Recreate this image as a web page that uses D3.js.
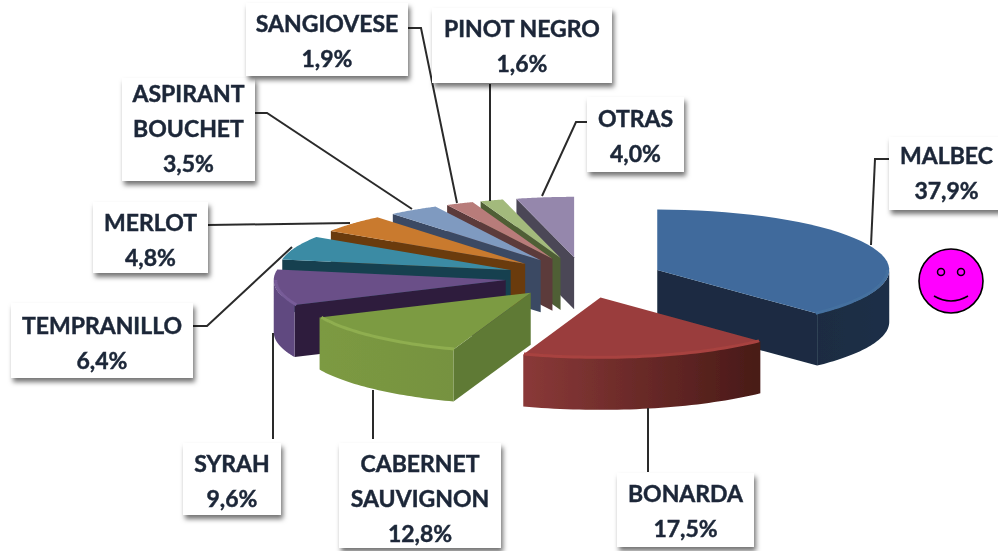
<!DOCTYPE html>
<html>
<head>
<meta charset="utf-8">
<style>
html,body{margin:0;padding:0;background:#fff;overflow:hidden}
svg{display:block}
text{font-family:Lato,"Open Sans",sans-serif;font-weight:700;font-size:23px;fill:#1c2738;stroke:#1c2738;stroke-width:0.45;text-anchor:middle;dominant-baseline:central}
</style>
<script src="https://cdnjs.cloudflare.com/ajax/libs/d3/7.8.5/d3.min.js"></script>
</head>
<body>
<svg id="chart" width="998" height="551"></svg>
<script>
// --- data ---
const categories = ["MALBEC","BONARDA","CABERNET SAUVIGNON","SYRAH","TEMPRANILLO","MERLOT","ASPIRANT BOUCHET","SANGIOVESE","PINOT NEGRO","OTRAS"];
const values = [37.9,17.5,12.8,9.6,6.4,4.8,3.5,1.9,1.6,4.0];
const labelLines = [["MALBEC"],["BONARDA"],["CABERNET","SAUVIGNON"],["SYRAH"],["TEMPRANILLO"],["MERLOT"],["ASPIRANT","BOUCHET"],["SANGIOVESE"],["PINOT NEGRO"],["OTRAS"]];

// --- styles ---
const topColors  = ["#3f6a9c","#9a3e3c","#7c9b43","#6a5088","#3a8ba4","#c97a2e","#7f9ac0","#b87c7a","#a3ba7c","#9587ac"];
const rimColors  = ["#44709f","#a8423f","#8fae50","#775b98","#3a8ba4","#c97a2e","#7f9ac0","#b87c7a","#a3ba7c","#9587ac"];
const cutColors  = ["#1a2c42","#481a17","#5f7a36","#2f1f3e","#17404f","#6a3a0c","#3b4a63","#5c3a3b","#4f5f36","#4b4657"];
const wallLeft   = ["#1a2c42","#8a3938","#7c9a42","#614980","#17404f","#6a3a0c","#3b4a63","#5c3a3b","#4f5f36","#4b4657"];
const wallRight  = ["#1b2f47","#481a17","#769240","#614980","#17404f","#6a3a0c","#3b4a63","#5c3a3b","#4f5f36","#4b4657"];

// --- layout of the pie and of the callouts ---
const cx = 584, cy = 277.5, R = 232, tilt = 0.26, explode = 0.34, depth = 52;
const callouts = [
  {box:[889,137,115,73],  y0:155, leader:[[889,159],[875,159],[871,245]]},
  {box:[617,473,137,74],  y0:493, leader:[[648,472],[648,408]]},
  {box:[339,443,162,105], y0:463, leader:[[373,439],[373,390]]},
  {box:[183,443,98,72],   y0:463, leader:[[273,439],[273,333]]},
  {box:[11,303,182,75],   y0:325, leader:[[193,326],[207,326],[292,247]]},
  {box:[93,202,115,71],   y0:222, leader:[[208,225],[350,223]]},
  {box:[122,78,133,103],  y0:93,  leader:[[255,113],[267,113],[412,209]]},
  {box:[246,3,162,73],    y0:23,  leader:[[408,28],[421,28],[457,203]]},
  {box:[432,8,180,75],    y0:28,  leader:[[490,84],[490,201]]},
  {box:[587,97,97,75],    y0:118, leader:[[587,122],[576,122],[542,196]]}
];

const svg = d3.select("#chart");
const defs = svg.append("defs");
defs.append("filter").attr("id","soft").attr("x","-5%").attr("y","-5%").attr("width","110%").attr("height","110%")
  .append("feGaussianBlur").attr("stdDeviation",0.7);
defs.append("filter").attr("id","textsoft").append("feGaussianBlur").attr("stdDeviation",0.35);
const sh = defs.append("filter").attr("id","shadow").attr("x","-15%").attr("y","-15%").attr("width","130%").attr("height","140%");
sh.append("feDropShadow").attr("dx",2).attr("dy",4).attr("stdDeviation",2.5).attr("flood-color","#000").attr("flood-opacity",0.55);

const pie = d3.pie().sort(null).startAngle(0).endAngle(2*Math.PI);
const slices = pie(values).map((d,i)=>{
  const mid = (d.startAngle+d.endAngle)/2;
  return {...d, i, ax: cx + R*explode*Math.sin(mid), ay: cy - R*tilt*explode*Math.cos(mid)};
});
const pt = (s,a,r=R)=>[s.ax + r*Math.sin(a), s.ay - r*tilt*Math.cos(a)];
const sample = (a0,a1)=>d3.range(0,41).map(k=>a0+(a1-a0)*k/40);
const line = d3.line();

const pieG = svg.append("g").attr("filter","url(#soft)");
const PI = Math.PI;

slices.slice().sort((a,b)=>a.ay-b.ay).forEach(s=>{
  const g = pieG.append("g");
  const A = [s.ax,s.ay];
  const down = p=>[p[0],p[1]+depth];
  const face = (a)=>{
    const p = pt(s,a);
    g.append("path").attr("d",line([A,p,down(p),down(A)])+"Z").attr("fill",cutColors[s.i]);
  };
  if (s.startAngle>PI && s.startAngle<2*PI) face(s.startAngle);
  if (s.endAngle>0 && s.endAngle<PI) face(s.endAngle);

  // outer wall: only the part on the front half of the ellipse is visible
  const w0 = Math.max(s.startAngle,PI/2), w1 = Math.min(s.endAngle,3*PI/2);
  if (w1>w0){
    const id = "wall"+s.i;
    const x0 = pt(s,w0)[0], x1 = pt(s,w1)[0];
    const gr = defs.append("linearGradient").attr("id",id).attr("gradientUnits","userSpaceOnUse")
      .attr("x1",Math.min(x0,x1)).attr("x2",Math.max(x0,x1)).attr("y1",0).attr("y2",0);
    gr.append("stop").attr("offset",0).attr("stop-color",wallLeft[s.i]);
    gr.append("stop").attr("offset",1).attr("stop-color",wallRight[s.i]);
    const arc = sample(w0,w1).map(a=>pt(s,a));
    g.append("path").attr("d",line(arc.concat(arc.map(down).reverse()))+"Z").attr("fill",`url(#${id})`);
  }

  // top face
  const top = [A].concat(sample(s.startAngle,s.endAngle).map(a=>pt(s,a)));
  g.append("path").attr("d",line(top)+"Z").attr("fill",topColors[s.i]);

  // bevel along the front rim
  if (w1>w0){
    g.append("path").attr("d",line(sample(w0,w1).map(a=>pt(s,a,R-2)))).attr("fill","none")
      .attr("stroke",rimColors[s.i]).attr("stroke-width",3);
  }
});

// leaders
const leaders = svg.append("g").attr("filter","url(#textsoft)");
callouts.forEach(c=>{
  leaders.append("path").attr("d",line(c.leader)).attr("fill","none").attr("stroke","#2b2b2b").attr("stroke-width",2);
});

// callout boxes and text
const fmt = d3.format(".1f");
callouts.forEach((c,i)=>{
  const [x,y,w,h] = c.box;
  svg.append("rect").attr("x",x).attr("y",y).attr("width",w).attr("height",h).attr("fill","#fff").attr("filter","url(#shadow)");
  const lines = labelLines[i].concat([fmt(values[i]).replace(".",",")+"%"]);
  const tx = x + w/2;
  const tg = svg.append("g").attr("filter","url(#textsoft)");
  lines.forEach((t,k)=>{
    tg.append("text").attr("x",tx).attr("y",c.y0+k*35).text(t);
  });
});

// smiley
const face = svg.append("g").attr("transform","translate(951,281)");
face.append("circle").attr("r",32).attr("fill","#ff00ff").attr("stroke","#000").attr("stroke-width",1.6);
[-10,10].forEach(dx=>face.append("circle").attr("cx",dx).attr("cy",-9).attr("r",3.5).attr("fill","#ff00ff").attr("stroke","#000").attr("stroke-width",1.5));
face.append("path").attr("d","M-17,15Q0,25 17,15").attr("fill","none").attr("stroke","#000").attr("stroke-width",1.6);
</script>
</body>
</html>
